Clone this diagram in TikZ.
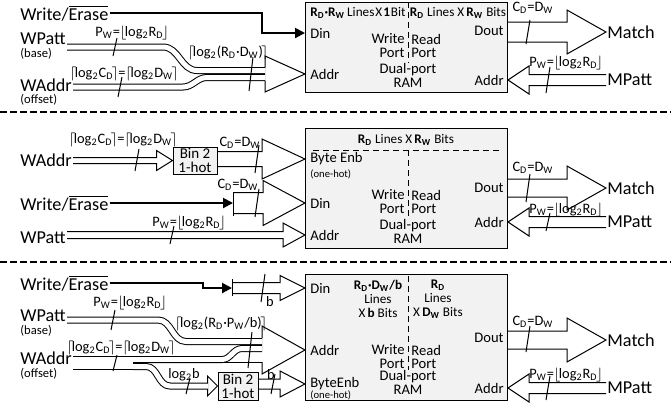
\documentclass[tikz,border=0pt]{standalone}
\usepackage{fontspec}
\setmainfont{Carlito}
\usetikzlibrary{arrows.meta,calc,positioning}

\newcommand{\lo}[1]{\textsubscript{#1}}
\newcommand{\flr}[1]{\kern-.3pt$\lfloor$\kern-.9pt#1\kern-.9pt$\rfloor$\kern-.3pt}
\newcommand{\cel}[1]{\kern-.3pt$\lceil$\kern-.9pt#1\kern-.9pt$\rceil$\kern-.3pt}
\newcommand{\wrer}{Write/$\overline{\mbox{Erase}}$}

% hollow bus arrow: start, tip, shaft half width, head half width, head length
\newcommand{\hollow}[5]{%
  \draw[busedge] let \p1=(#1), \p2=(#2), \n1={ifthenelse(\x2>\x1,1,-1)} in
    (\x1,{\y2+#3}) -- ({\x2-(\n1)*#5},{\y2+#3}) -- ({\x2-(\n1)*#5},{\y2+#4}) -- (\x2,\y2)
    -- ({\x2-(\n1)*#5},{\y2-#4}) -- ({\x2-(\n1)*#5},{\y2-#3}) -- (\x1,{\y2-#3});}
% head only, for buses that are drawn on their own
\newcommand{\hhead}[4]{%
  \draw[busedge] let \p2=(#1) in
    ({\x2-#4},{\y2+#2}) -- ({\x2-#4},{\y2+#3}) -- (\x2,\y2) -- ({\x2-#4},{\y2-#3}) -- ({\x2-#4},{\y2-#2});}

\begin{document}
\begin{tikzpicture}[
  x=0.5pt, y=-0.5pt,
  lbl/.style={inner sep=0.5pt, font=\fontsize{9.1}{10}\selectfont},
  sml/.style={inner sep=0pt, font=\fontsize{6.3}{7}\selectfont},
  tinylbl/.style={inner sep=0pt, font=\fontsize{5.3}{6}\selectfont},
  buslbl/.style={inner sep=0pt, font=\fontsize{7.2}{8}\selectfont},
  port/.style={inner sep=0pt, font=\fontsize{7.3}{8}\selectfont},
  hdr/.style={inner sep=0pt, align=center, font=\fontsize{6.6}{7}\selectfont},
  rambox/.style={draw, fill=black!5, line width=0.5pt, anchor=north west, minimum width=101pt, inner sep=0pt},
  binbox/.style={draw, fill=black!5, line width=0.5pt, align=center, inner sep=0pt, font=\fontsize{7.5}{7}\selectfont},
  bus/.style={double=white, double distance=2.5pt, line width=0.5pt},
  busedge/.style={line width=0.5pt, line join=miter},
  ctrl/.style={line width=1pt, -{Triangle[length=5pt, width=5pt]}},
  fan/.style={line width=0.5pt},
  divider/.style={line width=0.45pt, dash pattern=on 3pt off 2pt},
  panelsep/.style={line width=1.2pt, dash pattern=on 3.5pt off 1.5pt},
  busmark/.pic={\draw[line width=0.5pt] (-2,#1) -- (2,-#1);}
]
\useasboundingbox (0,0) rectangle (671,404);

% RAM boxes
\node[rambox, minimum height=45pt] (ram1) at (305,2) {};
\node[rambox, minimum height=60pt] (ram2) at (305,128) {};
\node[rambox, minimum height=63pt] (ram3) at (305,274) {};

\foreach \n/\y/\d in {1/39/70,2/195/226,3/350/377}{
  \node[port, anchor=east] (wr\n) at (405,\y) {Write};
  \node[port, anchor=east] (wq\n) at (405,\y+14) {Port};
  \node[port, anchor=west] (rd\n) at (411,\y) {Read};
  \node[port, anchor=west] (rq\n) at (411,\y+14) {Port};
  \node[port] (dp\n) at (408,\d) {Dual-port};
  \node[port] (rm\n) at (408,\d+13) {RAM};
}

\draw[panelsep] (0,112) -- (671,112);
\draw[panelsep] (0,262) -- (671,262);

% ---- panel 1 ----
\node[hdr] (hd1a) at (358,13) {\textbf{R\lo{D}·R\lo{W}}\,Lines\kern.5pt X\kern.5pt\textbf{1}\kern.5pt Bit};
\node[hdr] (hd1b) at (458,13) {\textbf{R\lo{D}} Lines X\,\textbf{R\lo{W}} Bits};
\draw[divider] (408,2) -- (408,63);
\node[port, anchor=west] (din1) at (310,33) {Din};
\node[port, anchor=west] (ad1) at (310,74) {Addr};
\node[port, anchor=east] (dout1) at (504,31) {Dout};
\node[port, anchor=east] (rad1) at (504,80) {Addr};

\node[lbl, anchor=west] (we1) at (19,13) {\wrer};
\node[lbl, anchor=west] (wp1) at (19,39) {WPatt};
\node[sml, anchor=west] (bs1) at (20,54) {(base)};
\node[lbl, anchor=west] (wa1) at (19,85) {WAddr};
\node[sml, anchor=west] (of1) at (20,100) {(offset)};
\node[lbl, anchor=west] (ma1) at (606,32) {Match};
\node[lbl, anchor=west] (mp1) at (606,80) {MPatt};

\coordinate (bend1) at (262,33);
\draw[ctrl] (we1.east) -| (bend1) -- (ram1.west |- din1);
\draw[bus] ([yshift=-4pt]wp1.east) -- (163,47) to[out=0,in=180] (197,70.5) -- (265,70.5);
\draw[bus] ([yshift=-1pt]wa1.east) -- (183,87) to[out=0,in=180] (207,77.5) -- (265,77.5);
\hhead{ram1.west |- ad1}{3.25pt}{9pt}{20pt}
\hollow{ram1.east |- ma1}{ma1.west}{5pt}{11pt}{19.5pt}
\hollow{mp1.west}{ram1.east |- mp1}{2.75pt}{7pt}{10.5pt}

\node[buslbl] (l1a) at (132,33) {P\lo{W}=\flr{log\lo{2}R\lo{D}}};
\node[buslbl] (l1b) at (124,74) {\cel{log\lo{2}C\lo{D}}=\cel{log\lo{2}D\lo{W}}};
\node[buslbl] (l1c) at (228,53) {\cel{log\lo{2}(R\lo{D}·D\lo{W})}};
\node[buslbl] (l1d) at (533,8) {C\lo{D}=D\lo{W}};
\node[buslbl] (l1e) at (566,63) {P\lo{W}=\flr{log\lo{2}R\lo{D}}};
\pic at (115,47) {busmark=9};
\pic at (120,87) {busmark=10};
\pic at (251,74) {busmark=17};
\pic at (528,32) {busmark=12};
\pic at (548,80) {busmark=13};

% ---- panel 2 ----
\node[hdr] (hd2) at (406,140) {\textbf{R\lo{D}} Lines X\,\textbf{R\lo{W}} Bits};
\draw[divider] (313,150) -- (502,150);
\draw[divider] (408,150) -- (408,218);
\node[port, anchor=west] (be2) at (310,159) {Byte Enb};
\node[tinylbl, anchor=west] (oh2) at (310,174) {(one-hot)};
\node[port, anchor=west] (din2) at (310,203) {Din};
\node[port, anchor=west] (ad2) at (310,235) {Addr};
\node[port, anchor=east] (dout2) at (504,188) {Dout};
\node[port, anchor=east] (rad2) at (504,222) {Addr};

\node[lbl, anchor=west] (wa2) at (19,160) {WAddr};
\node[lbl, anchor=west] (we2) at (19,203) {\wrer};
\node[lbl, anchor=west] (wp2) at (19,238) {WPatt};
\node[lbl, anchor=west] (ma2) at (606,188) {Match};
\node[lbl, anchor=west] (mp2) at (606,222) {MPatt};
\node[binbox, minimum width=22pt, minimum height=13.5pt] (bin2) at (195,160.5) {Bin 2\\1-hot};

\coordinate (fan2) at (233,203);
\draw[fan] (233,192) -- (233,216);
\draw[ctrl] (we2.east) -- (fan2);
\hollow{wa2.east}{bin2.west}{1.5pt}{5pt}{8pt}
\hollow{bin2.east}{ram2.west |- be2}{3.75pt}{10pt}{21.5pt}
\hollow{fan2}{ram2.west |- din2}{5.25pt}{11.25pt}{21pt}
\hollow{wp2.east}{ram2.west |- ad2}{1.75pt}{6pt}{11pt}
\hollow{ram2.east |- ma2}{ma2.west}{4.5pt}{11pt}{19.5pt}
\hollow{mp2.west}{ram2.east |- mp2}{2.75pt}{7pt}{10.5pt}

\node[buslbl] (l2a) at (123,140) {\cel{log\lo{2}C\lo{D}}=\cel{log\lo{2}D\lo{W}}};
\node[buslbl] (l2b) at (240,143) {C\lo{D}=D\lo{W}};
\node[buslbl] (l2c) at (238,185) {C\lo{D}=D\lo{W}};
\node[buslbl] (l2d) at (189,223) {P\lo{W}=\flr{log\lo{2}R\lo{D}}};
\node[buslbl] (l2e) at (533,168) {C\lo{D}=D\lo{W}};
\node[buslbl] (l2f) at (566,210) {P\lo{W}=\flr{log\lo{2}R\lo{D}}};
\pic at (137,160) {busmark=11};
\pic at (257,159) {busmark=14};
\pic at (257,203) {busmark=14};
\pic at (172,235) {busmark=9};
\pic at (528,188) {busmark=14};
\pic at (548,222) {busmark=9};

% ---- panel 3 ----
\node[hdr] (hd3a) at (378,299) {\textbf{R\lo{D}·D\lo{W}/b}\\Lines\\X\,\textbf{b} Bits};
\node[hdr] (hd3b) at (438,299) {\textbf{R\lo{D}}\\Lines\\X\,\textbf{D\lo{W}} Bits};
\draw[divider] (408,276) -- (408,370);
\node[port, anchor=west] (din3) at (310,288) {Din};
\node[port, anchor=west] (ad3) at (310,350) {Addr};
\node[port, anchor=west] (be3) at (310,384) {ByteEnb};
\node[tinylbl, anchor=west] (oh3) at (310,395) {(one-hot)};
\node[port, anchor=east] (dout3) at (504,338) {Dout};
\node[port, anchor=east] (rad3) at (504,388) {Addr};

\node[lbl, anchor=west] (we3) at (19,283) {\wrer};
\node[lbl, anchor=west] (wp3) at (19,316) {WPatt};
\node[sml, anchor=west] (bs3) at (20,331) {(base)};
\node[lbl, anchor=west] (wa3) at (19,358) {WAddr};
\node[sml, anchor=west] (of3) at (20,374) {(offset)};
\node[lbl, anchor=west] (ma3) at (606,340) {Match};
\node[lbl, anchor=west] (mp3) at (606,388) {MPatt};
\node[binbox, minimum width=20pt, minimum height=14pt] (bin3) at (238,386) {Bin 2\\1-hot};

\coordinate (bend3) at (203,288);
\coordinate (fan3) at (232,288);
\coordinate (split3) at (133,363);
\draw[ctrl] (we3.east) -| (bend3) -- (fan3);
\draw[fan] (232,279) -- (232,296);
\hollow{fan3}{ram3.west |- din3}{2.75pt}{6.25pt}{12.5pt}
\draw[bus] ([yshift=-2pt]wp3.east) -- (158,320) to[out=0,in=180] (186,341.5) -- (262,341.5);
\draw[bus, double distance=6pt] ([yshift=-2.5pt]wa3.east) -- (split3);
\draw[bus] ([yshift=1.75pt]split3) -- (222,359.5) to[out=0,in=180] (242,348.5) -- (262,348.5);
\draw[busedge] ([yshift=0.25pt]split3) -- (262,362.5);
\draw[bus] ([yshift=-1.75pt]split3) -- (146,366.5) to[out=0,in=180] (170,386) -- (208,386);
\hhead{bin3.west}{1.5pt}{5pt}{5pt}
\hhead{ram3.west |- ad3}{6pt}{12pt}{21.5pt}
\hollow{bin3.east}{ram3.west |- be3}{2.5pt}{6.5pt}{12.5pt}
\hollow{ram3.east |- ma3}{ma3.west}{4.5pt}{11pt}{19.5pt}
\hollow{mp3.west}{ram3.east |- mp3}{2.75pt}{7pt}{10.5pt}

\node[buslbl] (l3a) at (270,302) {b};
\node[buslbl] (l3b) at (130,303) {P\lo{W}=\flr{log\lo{2}R\lo{D}}};
\node[buslbl] (l3c) at (221,324) {\cel{log\lo{2}(R\lo{D}·P\lo{W}/b)}};
\node[buslbl] (l3d) at (121,348) {\cel{log\lo{2}C\lo{D}}=\cel{log\lo{2}D\lo{W}}};
\node[buslbl] (l3e) at (184,375) {log\lo{2}b};
\node[buslbl] (l3f) at (271,375) {b};
\node[buslbl] (l3g) at (533,322) {C\lo{D}=D\lo{W}};
\node[buslbl] (l3h) at (566,375) {P\lo{W}=\flr{log\lo{2}R\lo{D}}};
\pic at (263,288) {busmark=14};
\pic at (113,320) {busmark=10};
\pic at (250,350) {busmark=18};
\pic at (115,363) {busmark=8};
\pic at (188,386) {busmark=8};
\pic at (273,384) {busmark=10};
\pic at (528,339) {busmark=13};
\pic at (548,388) {busmark=12};
\end{tikzpicture}
\end{document}
